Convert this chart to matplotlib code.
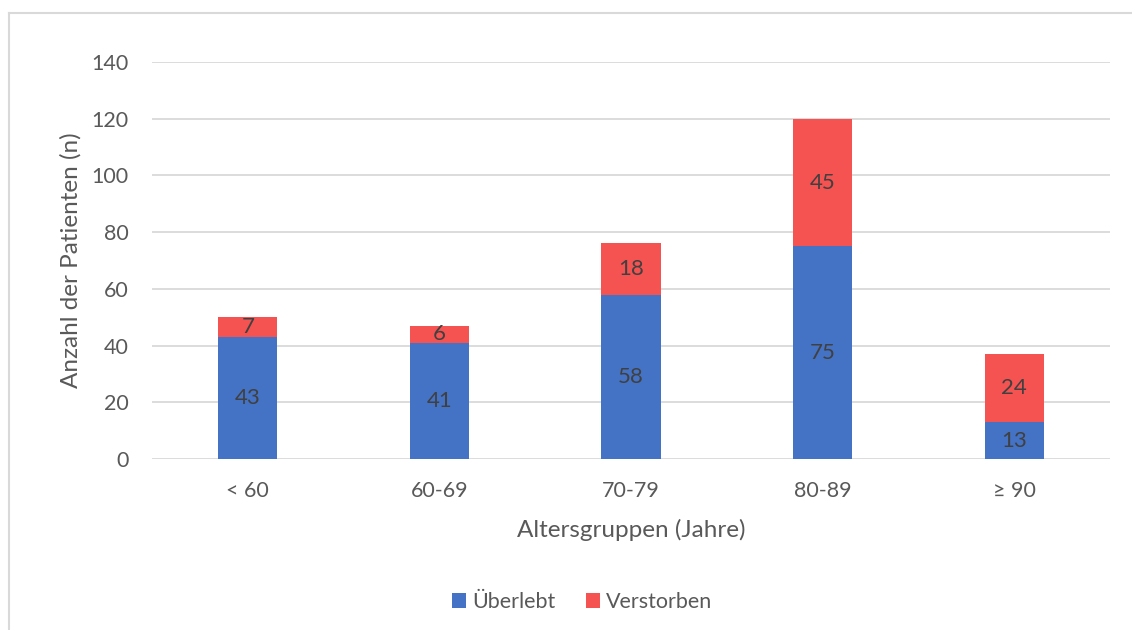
import numpy as np
import matplotlib.pyplot as plt
from matplotlib.lines import Line2D

plt.rcParams['font.family'] = ['Lato', 'DejaVu Sans']

groups = ['< 60', '60-69', '70-79', '80-89', '≥ 90']
ueberlebt = [43, 41, 58, 75, 13]
verstorben = [7, 6, 18, 45, 24]

blue = '#4472C4'
red = '#F55252'
text_col = '#595959'
label_col = '#404040'
grid_col = '#D9D9D9'

fig = plt.figure(figsize=(11.32, 6.3), dpi=100)
ax = fig.add_axes([152 / 1132, 1 - 459 / 630, (1110 - 152) / 1132, (459 - 62) / 630])

x = np.arange(len(groups))
width = 0.31
b1 = ax.bar(x, ueberlebt, width, color=blue, label='Überlebt', zorder=2)
b2 = ax.bar(x, verstorben, width, bottom=ueberlebt, color=red, label='Verstorben', zorder=2)

ax.bar_label(b1, labels=[str(v) for v in ueberlebt], label_type='center', color=label_col, fontsize=16)
ax.bar_label(b2, labels=[str(v) for v in verstorben], label_type='center', color=label_col, fontsize=16)

ax.set_xlim(-0.5, len(groups) - 0.5)
ax.set_ylim(0, 140)
ax.set_yticks(range(0, 141, 20))
ax.set_xticks(x)
ax.set_xticklabels(groups)
ax.yaxis.grid(True, color=grid_col, linewidth=1.3, zorder=0)
ax.set_axisbelow(True)
for s in ax.spines.values():
    s.set_visible(False)
ax.tick_params(axis='both', length=0, labelsize=15.5, colors=text_col)
ax.tick_params(axis='y', pad=17)
ax.tick_params(axis='x', pad=16)

ax.set_ylabel('Anzahl der Patienten (n)', fontsize=17.5, color=text_col, labelpad=7)
ax.set_xlabel('Altersgruppen (Jahre)', fontsize=17.5, color=text_col, labelpad=13)

ax.legend(loc='center', bbox_to_anchor=(0.449, -0.36), ncol=2, frameon=False,
          fontsize=15.5, labelcolor=text_col, handlelength=0.65, handleheight=0.65,
          handletextpad=0.3, columnspacing=1.4)

# outer chart frame (top and left edges only visible)
fig.add_artist(Line2D([8.5 / 1132, 1.0], [1 - 12.5 / 630] * 2, color=grid_col, linewidth=1.5))
fig.add_artist(Line2D([8.5 / 1132] * 2, [0, 1 - 12.5 / 630], color=grid_col, linewidth=1.5))

fig.savefig('out.png', dpi=100)
